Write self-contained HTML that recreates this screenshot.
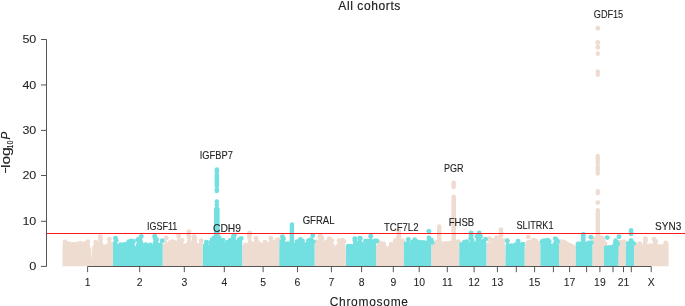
<!DOCTYPE html>
<html><head><meta charset="utf-8"><style>
html,body{margin:0;padding:0;background:#fff;}
svg{display:block;will-change:transform;}
text{font-family:"Liberation Sans",sans-serif;fill:#222;stroke:#222;stroke-width:0.25px;}
.t{font-size:10.4px;stroke-width:0.05px;}
.g{font-size:10.4px;stroke-width:0.1px;}
.h{font-size:12px;stroke-width:0.18px;}
.yl text{font-size:13.2px;stroke-width:0.1px;}
</style></head><body>
<svg width="685" height="306" viewBox="0 0 685 306">
<rect width="685" height="306" fill="#fff"/>
<clipPath id="cb"><rect x="0" y="0" width="685" height="266.5"/></clipPath>
<g fill="#eedcd0" clip-path="url(#cb)"><polygon points="62.5,266.5 62.6,243.5 65.1,241.9 67.3,244.1 68.8,243.6 70.7,244.6 72.7,244.1 76.1,244.1 77.6,244.6 80.1,243.2 82.5,244.4 84.5,243.6 87.9,241.7 89.4,243.6 90.2,246.0 91.0,249.0 91.3,258.5 91.6,258.5 91.9,249.0 92.6,246.0 95.7,242.2 97.6,243.5 100.3,236.6 100.5,239.5 102.2,241.0 103.4,244.6 106.3,244.6 109.3,239.2 111.5,242.0 113.0,242.0 113.0,266.5"/><circle cx="65.1" cy="241.9" r="2.45"/><circle cx="68.8" cy="243.6" r="2.45"/><circle cx="72.7" cy="244.1" r="2.45"/><circle cx="76.1" cy="244.1" r="2.45"/><circle cx="80.1" cy="243.2" r="2.45"/><circle cx="84.5" cy="243.6" r="2.45"/><circle cx="87.9" cy="241.7" r="2.45"/><circle cx="95.7" cy="242.2" r="2.45"/><circle cx="100.3" cy="236.6" r="2.45"/><circle cx="100.5" cy="239.5" r="2.45"/><circle cx="109.3" cy="239.2" r="2.45"/></g>
<g fill="#eedcd0" clip-path="url(#cb)"><polygon points="162.6,266.5 162.6,244.0 164.0,244.0 166.2,237.9 167.0,241.5 168.0,243.5 170.4,242.4 172.5,241.6 174.6,242.4 175.8,243.2 178.6,236.0 179.8,239.0 180.6,241.5 182.0,240.4 183.5,243.5 186.5,243.2 188.6,234.0 188.9,231.6 189.0,236.5 190.7,238.0 191.3,242.5 192.0,238.0 194.2,236.6 195.0,239.0 196.6,240.5 197.8,244.0 199.0,242.5 201.2,240.6 202.8,242.0 202.8,266.5"/><circle cx="166.2" cy="237.9" r="2.45"/><circle cx="170.4" cy="242.4" r="2.45"/><circle cx="172.5" cy="241.6" r="2.45"/><circle cx="174.6" cy="242.4" r="2.45"/><circle cx="178.6" cy="236.0" r="2.45"/><circle cx="182.0" cy="240.4" r="2.45"/><circle cx="188.6" cy="234.0" r="2.45"/><circle cx="188.9" cy="231.6" r="2.45"/><circle cx="189.0" cy="236.5" r="2.45"/><circle cx="194.2" cy="236.6" r="2.45"/><circle cx="195.0" cy="239.0" r="2.45"/><circle cx="201.2" cy="240.6" r="2.45"/></g>
<g fill="#eedcd0" clip-path="url(#cb)"><polygon points="242.2,266.5 242.3,245.5 245.5,245.0 247.4,244.0 249.6,233.0 249.4,234.8 249.3,236.7 251.5,240.0 252.7,242.6 256.1,238.2 259.0,240.6 261.5,243.1 265.0,242.1 267.4,243.1 270.8,238.2 274.3,240.6 276.5,240.8 278.4,239.6 279.2,240.0 279.2,266.5"/><circle cx="245.5" cy="245.0" r="2.45"/><circle cx="249.6" cy="233.0" r="2.45"/><circle cx="249.4" cy="234.8" r="2.45"/><circle cx="249.3" cy="236.7" r="2.45"/><circle cx="256.1" cy="238.2" r="2.45"/><circle cx="265.0" cy="242.1" r="2.45"/><circle cx="270.8" cy="238.2" r="2.45"/><circle cx="276.5" cy="240.8" r="2.45"/><circle cx="278.4" cy="239.6" r="2.45"/></g>
<g fill="#eedcd0" clip-path="url(#cb)"><polygon points="314.6,266.5 314.7,244.5 317.0,242.0 319.7,236.7 320.5,235.7 322.0,238.0 323.9,241.6 326.0,242.0 329.3,238.7 331.7,240.6 333.0,242.5 335.2,246.0 336.8,244.0 339.1,240.6 342.5,240.1 344.0,241.6 345.5,245.0 345.9,266.5"/><circle cx="317.0" cy="242.0" r="2.45"/><circle cx="319.7" cy="236.7" r="2.45"/><circle cx="320.5" cy="235.7" r="2.45"/><circle cx="322.0" cy="238.0" r="2.45"/><circle cx="326.0" cy="242.0" r="2.45"/><circle cx="329.3" cy="238.7" r="2.45"/><circle cx="331.7" cy="240.6" r="2.45"/><circle cx="339.1" cy="240.6" r="2.45"/><circle cx="342.5" cy="240.1" r="2.45"/><circle cx="344.0" cy="241.6" r="2.45"/></g>
<g fill="#eedcd0" clip-path="url(#cb)"><polygon points="376.0,266.5 376.0,245.5 379.6,242.6 383.5,243.6 385.6,243.8 387.3,247.5 389.0,244.8 391.3,244.1 395.3,240.6 398.2,237.2 398.7,231.3 399.0,234.0 399.0,236.7 400.9,239.2 402.4,240.6 403.8,242.0 403.8,266.5"/><circle cx="379.6" cy="242.6" r="2.45"/><circle cx="383.5" cy="243.6" r="2.45"/><circle cx="391.3" cy="244.1" r="2.45"/><circle cx="395.3" cy="240.6" r="2.45"/><circle cx="398.2" cy="237.2" r="2.45"/><circle cx="398.7" cy="231.3" r="2.45"/><circle cx="399.0" cy="234.0" r="2.45"/><circle cx="399.0" cy="236.7" r="2.45"/><circle cx="402.4" cy="240.6" r="2.45"/></g>
<g fill="#eedcd0" clip-path="url(#cb)"><polygon points="431.2,266.5 431.2,247.0 433.5,246.0 435.3,244.5 437.0,242.0 439.2,241.0 441.5,243.0 443.5,243.6 446.2,243.8 448.8,243.5 451.0,243.0 453.7,241.0 456.3,242.5 457.2,244.5 458.4,241.6 459.2,244.0 459.2,266.5"/><circle cx="433.5" cy="246.0" r="2.45"/><circle cx="435.3" cy="244.5" r="2.45"/><circle cx="437.0" cy="242.0" r="2.45"/><circle cx="439.2" cy="241.0" r="2.45"/><circle cx="443.5" cy="243.6" r="2.45"/><circle cx="446.2" cy="243.8" r="2.45"/><circle cx="448.8" cy="243.5" r="2.45"/><circle cx="451.0" cy="243.0" r="2.45"/><circle cx="453.7" cy="241.0" r="2.45"/><circle cx="456.3" cy="242.5" r="2.45"/><circle cx="458.4" cy="241.6" r="2.45"/></g>
<g fill="#eedcd0" clip-path="url(#cb)"><polygon points="486.4,266.5 486.5,244.0 489.3,238.7 489.8,244.1 491.7,240.1 494.0,240.5 496.6,237.7 499.0,239.0 501.0,229.8 501.0,232.5 501.0,235.7 502.5,239.0 504.0,240.6 505.0,245.0 505.4,266.5"/><circle cx="489.3" cy="238.7" r="2.45"/><circle cx="491.7" cy="240.1" r="2.45"/><circle cx="494.0" cy="240.5" r="2.45"/><circle cx="496.6" cy="237.7" r="2.45"/><circle cx="501.0" cy="229.8" r="2.45"/><circle cx="501.0" cy="232.5" r="2.45"/><circle cx="501.0" cy="235.7" r="2.45"/><circle cx="504.0" cy="240.6" r="2.45"/></g>
<g fill="#eedcd0" clip-path="url(#cb)"><polygon points="524.6,266.5 524.7,246.0 527.8,242.6 530.5,242.0 533.7,240.1 536.1,241.1 538.1,243.1 539.1,243.6 540.4,244.0 540.4,266.5"/><circle cx="527.8" cy="242.6" r="2.45"/><circle cx="530.5" cy="242.0" r="2.45"/><circle cx="533.7" cy="240.1" r="2.45"/><circle cx="536.1" cy="241.1" r="2.45"/><circle cx="539.1" cy="243.6" r="2.45"/></g>
<g fill="#eedcd0" clip-path="url(#cb)"><polygon points="559.0,266.5 559.0,240.0 561.0,241.8 563.5,242.0 565.5,240.5 567.0,241.3 569.0,242.4 571.0,243.3 573.0,244.3 575.0,245.4 575.8,245.6 575.8,266.5"/><circle cx="561.0" cy="241.8" r="2.45"/><circle cx="563.5" cy="242.0" r="2.45"/></g>
<g fill="#eedcd0" clip-path="url(#cb)"><polygon points="592.4,266.5 592.4,244.0 594.3,239.0 597.8,237.0 600.5,237.6 602.3,238.2 603.4,241.5 605.2,244.0 606.5,247.0 603.9,247.0 603.9,266.5"/><circle cx="594.3" cy="239.0" r="2.45"/><circle cx="597.8" cy="237.0" r="2.45"/><circle cx="600.5" cy="237.6" r="2.45"/><circle cx="602.3" cy="238.2" r="2.45"/><circle cx="603.4" cy="241.5" r="2.45"/><circle cx="605.2" cy="244.0" r="2.45"/></g>
<g fill="#eedcd0" clip-path="url(#cb)"><polygon points="617.6,266.5 617.6,244.0 620.0,242.5 622.0,242.3 624.0,241.6 625.8,243.0 625.8,266.5"/><circle cx="620.0" cy="242.5" r="2.45"/><circle cx="622.0" cy="242.3" r="2.45"/><circle cx="624.0" cy="241.6" r="2.45"/></g>
<g fill="#eedcd0" clip-path="url(#cb)"><polygon points="634.0,266.5 634.1,246.0 636.5,245.0 639.8,243.8 642.0,245.0 645.4,238.7 645.5,241.0 647.8,244.5 650.0,245.8 651.8,245.0 654.0,239.2 655.8,241.5 657.5,244.0 659.5,246.5 662.5,246.5 664.0,246.0 665.7,243.0 666.4,245.0 668.6,247.0 668.6,266.5"/><circle cx="636.5" cy="245.0" r="2.45"/><circle cx="639.8" cy="243.8" r="2.45"/><circle cx="645.4" cy="238.7" r="2.45"/><circle cx="645.5" cy="241.0" r="2.45"/><circle cx="650.0" cy="245.8" r="2.45"/><circle cx="654.0" cy="239.2" r="2.45"/><circle cx="655.8" cy="241.5" r="2.45"/><circle cx="659.5" cy="246.5" r="2.45"/><circle cx="662.5" cy="246.5" r="2.45"/><circle cx="665.7" cy="243.0" r="2.45"/><circle cx="666.4" cy="245.0" r="2.45"/></g>
<g fill="#72e0e0" clip-path="url(#cb)"><polygon points="113.0,266.5 113.0,242.0 115.5,238.3 116.2,240.5 118.0,244.5 120.5,244.6 123.6,244.6 126.0,244.3 127.0,244.8 128.8,241.6 131.3,241.0 133.4,241.5 134.6,243.5 135.4,247.0 136.3,243.5 137.7,239.7 139.0,239.7 141.3,236.4 143.6,243.5 145.8,244.6 147.8,245.5 150.3,244.9 152.2,245.0 154.7,236.3 155.2,238.5 156.6,239.7 159.1,243.2 162.3,240.7 162.6,242.0 162.6,266.5"/><circle cx="115.5" cy="238.3" r="2.45"/><circle cx="116.2" cy="240.5" r="2.45"/><circle cx="120.5" cy="244.6" r="2.45"/><circle cx="123.6" cy="244.6" r="2.45"/><circle cx="126.0" cy="244.3" r="2.45"/><circle cx="128.8" cy="241.6" r="2.45"/><circle cx="131.3" cy="241.0" r="2.45"/><circle cx="133.4" cy="241.5" r="2.45"/><circle cx="137.7" cy="239.7" r="2.45"/><circle cx="139.0" cy="239.7" r="2.45"/><circle cx="141.3" cy="236.4" r="2.45"/><circle cx="145.8" cy="244.6" r="2.45"/><circle cx="150.3" cy="244.9" r="2.45"/><circle cx="154.7" cy="236.3" r="2.45"/><circle cx="155.2" cy="238.5" r="2.45"/><circle cx="156.6" cy="239.7" r="2.45"/><circle cx="162.3" cy="240.7" r="2.45"/></g>
<g fill="#72e0e0" clip-path="url(#cb)"><polygon points="202.8,266.5 202.9,244.5 206.4,242.1 208.2,243.5 209.0,245.0 210.5,242.5 212.3,239.4 214.5,237.5 217.1,236.7 219.1,237.7 221.5,240.1 223.0,240.1 225.9,243.6 227.4,242.1 230.4,240.1 233.3,236.7 234.3,235.2 236.7,240.6 239.3,239.5 241.2,238.5 242.2,241.0 242.2,266.5"/><circle cx="206.4" cy="242.1" r="2.45"/><circle cx="210.5" cy="242.5" r="2.45"/><circle cx="212.3" cy="239.4" r="2.45"/><circle cx="214.5" cy="237.5" r="2.45"/><circle cx="217.1" cy="236.7" r="2.45"/><circle cx="219.1" cy="237.7" r="2.45"/><circle cx="223.0" cy="240.1" r="2.45"/><circle cx="227.4" cy="242.1" r="2.45"/><circle cx="230.4" cy="240.1" r="2.45"/><circle cx="233.3" cy="236.7" r="2.45"/><circle cx="234.3" cy="235.2" r="2.45"/><circle cx="239.3" cy="239.5" r="2.45"/><circle cx="241.2" cy="238.5" r="2.45"/></g>
<g fill="#72e0e0" clip-path="url(#cb)"><polygon points="279.2,266.5 279.3,241.0 282.4,236.7 283.5,239.0 285.8,242.1 287.8,243.6 291.9,241.0 295.2,243.1 297.1,241.6 300.4,239.5 302.5,241.0 305.0,242.6 308.4,240.6 310.8,239.6 312.8,235.5 313.3,241.6 314.6,243.0 314.6,266.5"/><circle cx="282.4" cy="236.7" r="2.45"/><circle cx="283.5" cy="239.0" r="2.45"/><circle cx="287.8" cy="243.6" r="2.45"/><circle cx="291.9" cy="241.0" r="2.45"/><circle cx="297.1" cy="241.6" r="2.45"/><circle cx="300.4" cy="239.5" r="2.45"/><circle cx="302.5" cy="241.0" r="2.45"/><circle cx="308.4" cy="240.6" r="2.45"/><circle cx="310.8" cy="239.6" r="2.45"/><circle cx="312.8" cy="235.5" r="2.45"/><circle cx="313.3" cy="241.6" r="2.45"/></g>
<g fill="#72e0e0" clip-path="url(#cb)"><polygon points="345.9,266.5 345.9,246.5 348.3,246.3 351.2,246.3 352.5,245.5 354.8,238.6 355.0,240.5 357.3,241.6 359.7,238.2 360.3,238.5 363.4,243.1 365.5,241.1 368.0,241.1 370.7,236.2 373.0,240.1 375.0,241.0 376.8,241.0 376.0,245.5 376.0,266.5"/><circle cx="348.3" cy="246.3" r="2.45"/><circle cx="351.2" cy="246.3" r="2.45"/><circle cx="354.8" cy="238.6" r="2.45"/><circle cx="355.0" cy="240.5" r="2.45"/><circle cx="359.7" cy="238.2" r="2.45"/><circle cx="360.3" cy="238.5" r="2.45"/><circle cx="365.5" cy="241.1" r="2.45"/><circle cx="368.0" cy="241.1" r="2.45"/><circle cx="370.7" cy="236.2" r="2.45"/><circle cx="375.0" cy="241.0" r="2.45"/><circle cx="376.8" cy="241.0" r="2.45"/></g>
<g fill="#72e0e0" clip-path="url(#cb)"><polygon points="403.8,266.5 403.9,244.0 406.0,243.6 408.3,239.4 410.2,243.0 410.8,244.2 412.3,242.3 414.7,239.8 416.5,241.8 418.0,243.5 419.5,242.4 422.2,242.4 425.0,242.6 426.5,242.5 428.9,237.9 429.2,240.0 431.4,240.2 432.2,242.6 431.2,244.0 431.2,266.5"/><circle cx="406.0" cy="243.6" r="2.45"/><circle cx="408.3" cy="239.4" r="2.45"/><circle cx="412.3" cy="242.3" r="2.45"/><circle cx="414.7" cy="239.8" r="2.45"/><circle cx="416.5" cy="241.8" r="2.45"/><circle cx="419.5" cy="242.4" r="2.45"/><circle cx="422.2" cy="242.4" r="2.45"/><circle cx="425.0" cy="242.6" r="2.45"/><circle cx="428.9" cy="237.9" r="2.45"/><circle cx="429.2" cy="240.0" r="2.45"/><circle cx="431.4" cy="240.2" r="2.45"/><circle cx="432.2" cy="242.6" r="2.45"/></g>
<g fill="#72e0e0" clip-path="url(#cb)"><polygon points="459.2,266.5 459.3,245.5 461.5,244.5 464.4,242.1 466.8,241.6 468.6,243.6 470.7,238.2 471.2,235.5 471.2,233.0 473.0,237.0 474.2,239.5 475.0,242.6 475.8,239.5 476.8,236.5 478.5,236.0 479.2,233.0 480.5,236.5 482.0,240.6 483.5,241.1 485.5,239.2 486.4,243.0 486.4,266.5"/><circle cx="461.5" cy="244.5" r="2.45"/><circle cx="464.4" cy="242.1" r="2.45"/><circle cx="466.8" cy="241.6" r="2.45"/><circle cx="470.7" cy="238.2" r="2.45"/><circle cx="471.2" cy="235.5" r="2.45"/><circle cx="471.2" cy="233.0" r="2.45"/><circle cx="476.8" cy="236.5" r="2.45"/><circle cx="478.5" cy="236.0" r="2.45"/><circle cx="479.2" cy="233.0" r="2.45"/><circle cx="480.5" cy="236.5" r="2.45"/><circle cx="483.5" cy="241.1" r="2.45"/><circle cx="485.5" cy="239.2" r="2.45"/></g>
<g fill="#72e0e0" clip-path="url(#cb)"><polygon points="505.4,266.5 505.5,245.0 507.4,240.8 509.4,244.5 511.0,245.8 513.3,246.0 515.6,244.8 518.1,241.3 520.0,244.0 521.0,245.0 522.9,244.1 524.6,245.0 524.6,266.5"/><circle cx="507.4" cy="240.8" r="2.45"/><circle cx="511.0" cy="245.8" r="2.45"/><circle cx="513.3" cy="246.0" r="2.45"/><circle cx="515.6" cy="244.8" r="2.45"/><circle cx="518.1" cy="241.3" r="2.45"/><circle cx="521.0" cy="245.0" r="2.45"/><circle cx="522.9" cy="244.1" r="2.45"/></g>
<g fill="#72e0e0" clip-path="url(#cb)"><polygon points="540.4,266.5 540.4,244.0 542.2,241.5 544.0,240.6 547.6,240.3 549.2,241.5 550.7,243.0 552.2,244.2 553.4,242.0 555.3,238.6 556.5,240.0 557.6,241.5 558.8,244.0 559.0,244.0 559.0,266.5"/><circle cx="542.2" cy="241.5" r="2.45"/><circle cx="544.0" cy="240.6" r="2.45"/><circle cx="547.6" cy="240.3" r="2.45"/><circle cx="549.2" cy="241.5" r="2.45"/><circle cx="555.3" cy="238.6" r="2.45"/><circle cx="556.5" cy="240.0" r="2.45"/><circle cx="557.6" cy="241.5" r="2.45"/></g>
<g fill="#72e0e0" clip-path="url(#cb)"><polygon points="575.8,266.5 575.8,242.5 578.1,244.0 580.0,244.0 580.5,243.0 581.0,242.0 583.3,240.0 585.6,242.0 586.4,242.1 588.5,243.0 591.3,242.6 592.4,244.0 592.4,266.5"/><circle cx="578.1" cy="244.0" r="2.45"/><circle cx="580.0" cy="244.0" r="2.45"/><circle cx="588.5" cy="243.0" r="2.45"/><circle cx="591.3" cy="242.6" r="2.45"/></g>
<g fill="#72e0e0" clip-path="url(#cb)"><polygon points="603.9,266.5 603.9,248.5 606.2,248.0 608.5,247.6 610.8,247.5 612.7,247.2 614.3,246.0 615.6,243.0 617.8,244.0 618.6,246.0 618.1,266.5"/><circle cx="606.2" cy="248.0" r="2.45"/><circle cx="608.5" cy="247.6" r="2.45"/><circle cx="610.8" cy="247.5" r="2.45"/><circle cx="612.7" cy="247.2" r="2.45"/><circle cx="614.3" cy="246.0" r="2.45"/><circle cx="615.6" cy="243.0" r="2.45"/><circle cx="617.8" cy="244.0" r="2.45"/></g>
<g fill="#72e0e0" clip-path="url(#cb)"><polygon points="625.8,266.5 625.8,246.0 628.2,243.5 631.1,240.8 633.6,243.5 634.0,246.0 634.0,266.5"/><circle cx="628.2" cy="243.5" r="2.45"/><circle cx="631.1" cy="240.8" r="2.45"/><circle cx="633.6" cy="243.5" r="2.45"/></g>
<circle cx="428.9" cy="231.3" r="2.45" fill="#72e0e0"/>
<circle cx="528.3" cy="236.9" r="2.45" fill="#eedcd0"/>
<circle cx="590.9" cy="237.2" r="2.45" fill="#72e0e0"/>
<circle cx="607.3" cy="237.6" r="2.45" fill="#72e0e0"/>
<circle cx="619.0" cy="236.8" r="2.45" fill="#72e0e0"/>
<rect x="214.6" y="167.2" width="4.5" height="6.4" rx="2.2" fill="#72e0e0"/>
<rect x="214.6" y="172.6" width="4.5" height="15.3" rx="2.2" fill="#72e0e0"/>
<rect x="214.6" y="186.9" width="4.5" height="6.4" rx="2.2" fill="#72e0e0"/>
<rect x="214.5" y="199.3" width="4.6" height="4.7" rx="2.3" fill="#72e0e0"/>
<rect x="214.5" y="203.0" width="4.6" height="3.9" rx="2.3" fill="#72e0e0"/>
<rect x="214.5" y="205.9" width="4.6" height="30.1" rx="2.3" fill="#72e0e0"/>
<rect x="214.0" y="207.0" width="5.6" height="37.0" rx="2.8" fill="#72e0e0"/>
<rect x="289.7" y="222.3" width="4.4" height="21.7" rx="2.2" fill="#72e0e0"/>
<rect x="451.4" y="180.5" width="4.5" height="8.8" rx="2.2" fill="#eedcd0"/>
<rect x="451.4" y="194.6" width="4.6" height="51.4" rx="2.3" fill="#eedcd0"/>
<rect x="437.0" y="224.3" width="4.4" height="21.7" rx="2.2" fill="#eedcd0"/>
<rect x="595.6" y="153.8" width="4.3" height="11.5" rx="2.1" fill="#eedcd0"/>
<rect x="595.6" y="164.3" width="4.3" height="11.5" rx="2.1" fill="#eedcd0"/>
<rect x="595.7" y="189.0" width="4.2" height="6.4" rx="2.1" fill="#eedcd0"/>
<rect x="595.6" y="208.0" width="4.4" height="38.0" rx="2.2" fill="#eedcd0"/>
<rect x="595.7" y="69.2" width="4.2" height="7.8" rx="2.1" fill="#eedcd0"/>
<rect x="595.7" y="51.2" width="4.2" height="4.8" rx="2.1" fill="#eedcd0"/>
<rect x="628.8" y="227.9" width="4.6" height="8.4" rx="2.3" fill="#72e0e0"/>
<rect x="628.8" y="238.4" width="4.6" height="7.6" rx="2.3" fill="#72e0e0"/>
<rect x="581.0" y="232.0" width="4.6" height="12.0" rx="2.3" fill="#72e0e0"/>
<rect x="613.3" y="238.3" width="4.6" height="7.7" rx="2.3" fill="#72e0e0"/>
<rect x="616.5" y="240.0" width="2.2" height="6.0" rx="1.1" fill="#72e0e0"/>
<circle cx="597.8" cy="28.3" r="2.45" fill="#eedcd0"/>
<circle cx="597.8" cy="42.5" r="2.45" fill="#eedcd0"/>
<circle cx="597.8" cy="47.2" r="2.45" fill="#eedcd0"/>
<circle cx="597.8" cy="202.6" r="2.45" fill="#eedcd0"/>
<line x1="46.5" y1="233.5" x2="685" y2="233.5" stroke="#ff161e" stroke-width="1.1"/>
<line x1="46.5" y1="39.5" x2="46.5" y2="266.5" stroke="#555" stroke-width="1"/>
<line x1="41" y1="39.5" x2="46.5" y2="39.5" stroke="#555" stroke-width="1"/>
<text x="36.3" y="43.2" text-anchor="end" class="t" textLength="13.9" lengthAdjust="spacingAndGlyphs">50</text>
<line x1="41" y1="84.95" x2="46.5" y2="84.95" stroke="#555" stroke-width="1"/>
<text x="36.3" y="88.7" text-anchor="end" class="t" textLength="13.9" lengthAdjust="spacingAndGlyphs">40</text>
<line x1="41" y1="130.4" x2="46.5" y2="130.4" stroke="#555" stroke-width="1"/>
<text x="36.3" y="134.1" text-anchor="end" class="t" textLength="13.9" lengthAdjust="spacingAndGlyphs">30</text>
<line x1="41" y1="175.5" x2="46.5" y2="175.5" stroke="#555" stroke-width="1"/>
<text x="36.3" y="179.2" text-anchor="end" class="t" textLength="13.9" lengthAdjust="spacingAndGlyphs">20</text>
<line x1="41" y1="221.3" x2="46.5" y2="221.3" stroke="#555" stroke-width="1"/>
<text x="36.3" y="225.0" text-anchor="end" class="t" textLength="13.9" lengthAdjust="spacingAndGlyphs">10</text>
<line x1="41" y1="266.4" x2="46.5" y2="266.4" stroke="#555" stroke-width="1"/>
<text x="36.3" y="270.1" text-anchor="end" class="t" textLength="7.1" lengthAdjust="spacingAndGlyphs">0</text>
<line x1="87.6" y1="266.5" x2="651.2" y2="266.5" stroke="#555" stroke-width="1"/>
<line x1="87.6" y1="266.5" x2="87.6" y2="272.2" stroke="#555" stroke-width="1"/>
<text x="87.6" y="285.8" text-anchor="middle" class="t">1</text>
<line x1="139.7" y1="266.5" x2="139.7" y2="272.2" stroke="#555" stroke-width="1"/>
<text x="139.7" y="285.8" text-anchor="middle" class="t">2</text>
<line x1="184.3" y1="266.5" x2="184.3" y2="272.2" stroke="#555" stroke-width="1"/>
<text x="184.3" y="285.8" text-anchor="middle" class="t">3</text>
<line x1="224.3" y1="266.5" x2="224.3" y2="272.2" stroke="#555" stroke-width="1"/>
<text x="224.3" y="285.8" text-anchor="middle" class="t">4</text>
<line x1="263.1" y1="266.5" x2="263.1" y2="272.2" stroke="#555" stroke-width="1"/>
<text x="263.1" y="285.8" text-anchor="middle" class="t">5</text>
<line x1="297.5" y1="266.5" x2="297.5" y2="272.2" stroke="#555" stroke-width="1"/>
<text x="297.5" y="285.8" text-anchor="middle" class="t">6</text>
<line x1="331.4" y1="266.5" x2="331.4" y2="272.2" stroke="#555" stroke-width="1"/>
<text x="331.4" y="285.8" text-anchor="middle" class="t">7</text>
<line x1="361.6" y1="266.5" x2="361.6" y2="272.2" stroke="#555" stroke-width="1"/>
<text x="361.6" y="285.8" text-anchor="middle" class="t">8</text>
<line x1="393.3" y1="266.5" x2="393.3" y2="272.2" stroke="#555" stroke-width="1"/>
<text x="393.3" y="285.8" text-anchor="middle" class="t">9</text>
<line x1="419.2" y1="266.5" x2="419.2" y2="272.2" stroke="#555" stroke-width="1"/>
<text x="419.2" y="285.8" text-anchor="middle" class="t">10</text>
<line x1="447.3" y1="266.5" x2="447.3" y2="272.2" stroke="#555" stroke-width="1"/>
<text x="447.3" y="285.8" text-anchor="middle" class="t">11</text>
<line x1="474.1" y1="266.5" x2="474.1" y2="272.2" stroke="#555" stroke-width="1"/>
<text x="474.1" y="285.8" text-anchor="middle" class="t">12</text>
<line x1="497.4" y1="266.5" x2="497.4" y2="272.2" stroke="#555" stroke-width="1"/>
<text x="497.4" y="285.8" text-anchor="middle" class="t">13</text>
<line x1="516.3" y1="266.5" x2="516.3" y2="272.2" stroke="#555" stroke-width="1"/>
<line x1="534.6" y1="266.5" x2="534.6" y2="272.2" stroke="#555" stroke-width="1"/>
<text x="534.6" y="285.8" text-anchor="middle" class="t">15</text>
<line x1="553.4" y1="266.5" x2="553.4" y2="272.2" stroke="#555" stroke-width="1"/>
<line x1="569.6" y1="266.5" x2="569.6" y2="272.2" stroke="#555" stroke-width="1"/>
<text x="569.6" y="285.8" text-anchor="middle" class="t">17</text>
<line x1="586.6" y1="266.5" x2="586.6" y2="272.2" stroke="#555" stroke-width="1"/>
<line x1="599.9" y1="266.5" x2="599.9" y2="272.2" stroke="#555" stroke-width="1"/>
<text x="599.9" y="285.8" text-anchor="middle" class="t">19</text>
<line x1="613.0" y1="266.5" x2="613.0" y2="272.2" stroke="#555" stroke-width="1"/>
<line x1="623.5" y1="266.5" x2="623.5" y2="272.2" stroke="#555" stroke-width="1"/>
<text x="623.5" y="285.8" text-anchor="middle" class="t">21</text>
<line x1="631.3" y1="266.5" x2="631.3" y2="272.2" stroke="#555" stroke-width="1"/>
<line x1="651.2" y1="266.5" x2="651.2" y2="272.2" stroke="#555" stroke-width="1"/>
<text x="651.2" y="285.8" text-anchor="middle" class="t">X</text>
<text x="593.8" y="17.7" class="g" textLength="29.4" lengthAdjust="spacingAndGlyphs">GDF15</text>
<text x="199.8" y="159.0" class="g" textLength="33.0" lengthAdjust="spacingAndGlyphs">IGFBP7</text>
<text x="444.0" y="171.8" class="g" textLength="19.6" lengthAdjust="spacingAndGlyphs">PGR</text>
<text x="302.7" y="224.2" class="g" textLength="31.8" lengthAdjust="spacingAndGlyphs">GFRAL</text>
<text x="147.0" y="230.2" class="g" textLength="30.3" lengthAdjust="spacingAndGlyphs">IGSF11</text>
<text x="213.0" y="232.0" class="g" textLength="28.0" lengthAdjust="spacingAndGlyphs">CDH9</text>
<text x="383.9" y="231.2" class="g" textLength="34.6" lengthAdjust="spacingAndGlyphs">TCF7L2</text>
<text x="448.7" y="225.9" class="g" textLength="25.5" lengthAdjust="spacingAndGlyphs">FHSB</text>
<text x="516.5" y="229.3" class="g" textLength="37.0" lengthAdjust="spacingAndGlyphs">SLITRK1</text>
<text x="655.1" y="230.0" class="g" textLength="26.2" lengthAdjust="spacingAndGlyphs">SYN3</text>
<text x="338.3" y="9.9" class="h" style="letter-spacing:0.6px">All cohorts</text>
<text x="329.7" y="305.6" class="h" style="letter-spacing:0.7px;stroke-width:0.1px">Chromosome</text>
<g transform="translate(10.3,0) rotate(-90)" class="yl"><text x="-173.6" y="0" textLength="6.1" lengthAdjust="spacingAndGlyphs">−</text><text x="-168.1" y="0" textLength="20.9" lengthAdjust="spacingAndGlyphs">log</text><text x="-148.4" y="2.9" style="font-size:8.6px;stroke-width:0.12px" textLength="7.8" lengthAdjust="spacingAndGlyphs">10</text><text x="-139.6" y="0" style="font-style:italic;font-size:12px" textLength="7.8" lengthAdjust="spacingAndGlyphs">P</text></g>
</svg>
</body></html>
